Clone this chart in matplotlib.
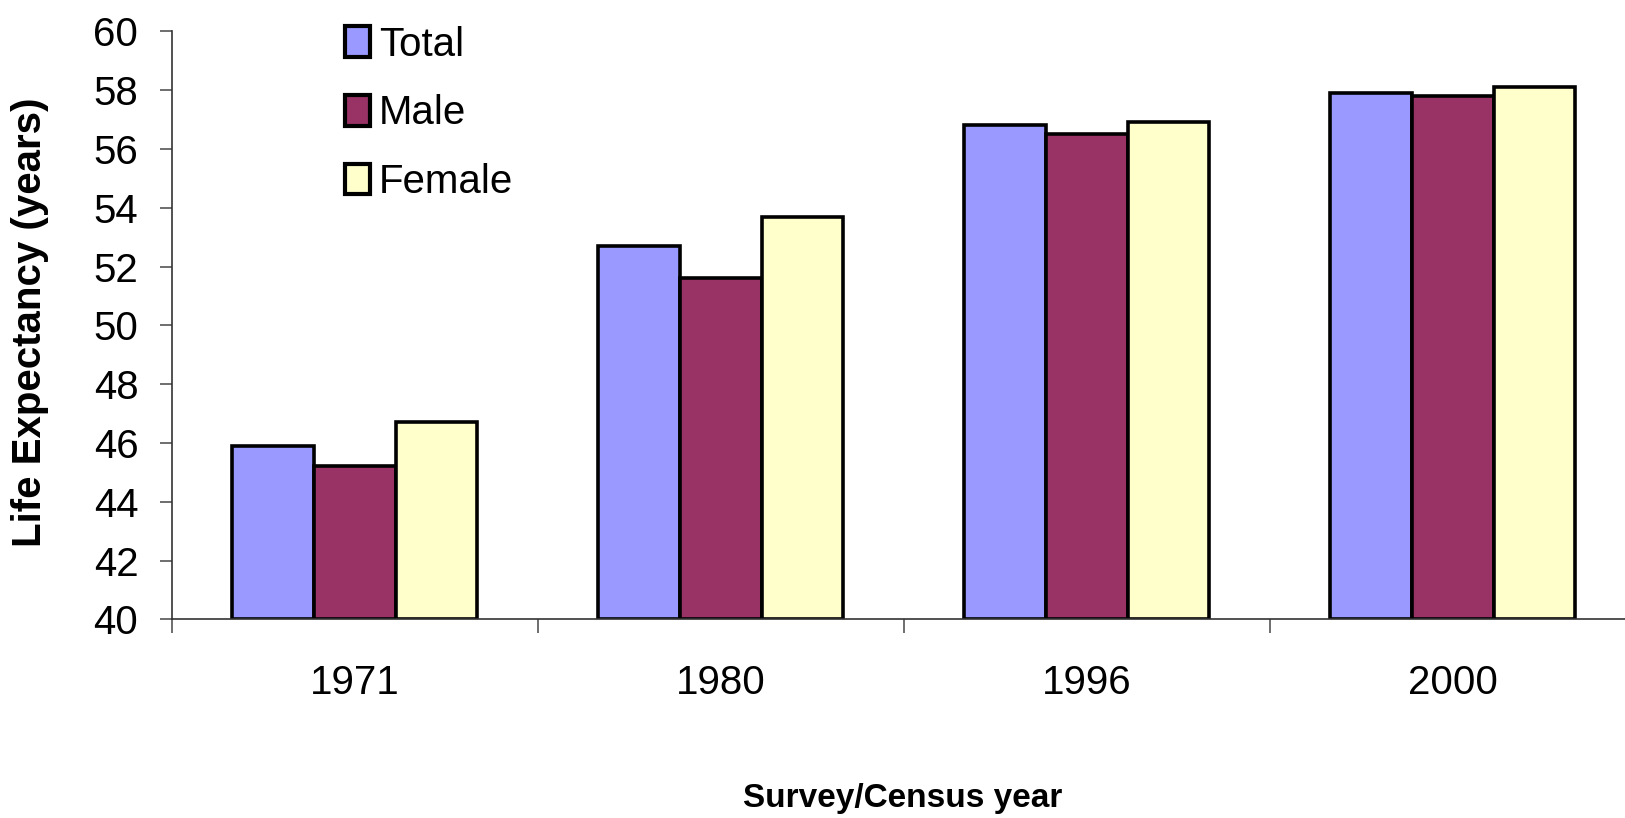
import numpy as np
import matplotlib
matplotlib.use("Agg")
import matplotlib.pyplot as plt
from matplotlib.ticker import FixedLocator

# data
years = ["1971", "1980", "1996", "2000"]
series = ["Total", "Male", "Female"]
total = [45.9, 52.7, 56.8, 57.9]
male = [45.2, 51.6, 56.5, 57.8]
female = [46.7, 53.7, 56.9, 58.1]
colors = ["#9999FF", "#993366", "#FFFFCC"]

plt.rcParams["font.family"] = ["Liberation Sans", "DejaVu Sans"]

fig = plt.figure(figsize=(16.25, 8.18), dpi=100)
ax = fig.add_axes([0.1057, 0.2429, 0.9009, 0.7188])

x = np.arange(len(years))
width = 0.223
for i, (vals, name, c) in enumerate(zip([total, male, female], series, colors)):
    ax.bar(x + (i - 1) * width, np.array(vals) - 40, width, bottom=40,
           color=c, edgecolor="black", linewidth=2.6, label=name)

ax.set_xlim(-0.5, 3.5)
ax.set_ylim(40, 60)
ax.set_yticks(np.arange(40, 61, 2))
ax.set_xticks(x)
ax.set_xticklabels(years)
ax.xaxis.set_minor_locator(FixedLocator([-0.5, 0.5, 1.5, 2.5, 3.5]))
ax.tick_params(axis="x", which="major", length=0, pad=32, labelsize=29)
ax.tick_params(axis="x", which="minor", length=10, width=1.2, color="#555555")
ax.tick_params(axis="y", length=8.6, width=1.2, color="#555555", pad=15.5, labelsize=29)

for s in ["top", "right"]:
    ax.spines[s].set_visible(False)
for s in ["left", "bottom"]:
    ax.spines[s].set_linewidth(1.2)
    ax.spines[s].set_color("#333333")

leg = ax.legend(loc="upper left", bbox_to_anchor=(0.1974, 0.998), bbox_transform=fig.transFigure,
                frameon=False, fontsize=29, handlelength=0.62, handleheight=0.8,
                handletextpad=0.22, labelspacing=0.76, borderpad=0.1)
for h in leg.legend_handles:
    h.set_linewidth(3)

fig.text(30 / 1625, 1 - 322 / 818, "Life Expectancy (years)", rotation=90,
         ha="center", va="center", fontsize=29, fontweight="bold")
fig.text(903 / 1625, 1 - 798 / 818, "Survey/Census year",
         ha="center", va="center", fontsize=24, fontweight="bold")

fig.savefig("out.png", dpi=100)
